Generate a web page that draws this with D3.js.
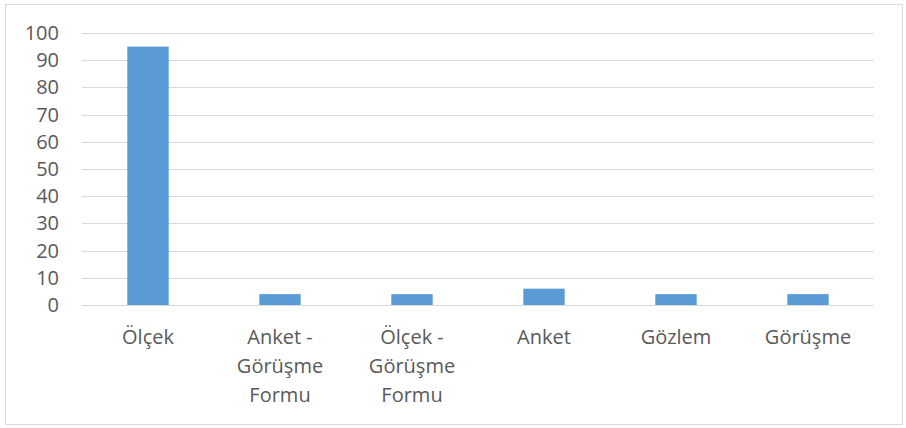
<!DOCTYPE html>
<html><head><meta charset="utf-8">
<script src="https://cdn.jsdelivr.net/npm/d3@7"></script>
<style>body{margin:0;background:#fff;} svg{display:block;}</style>
</head><body>
<script>
const categories = [["Ölçek"], ["Anket -", "Görüşme", "Formu"], ["Ölçek -", "Görüşme", "Formu"], ["Anket"], ["Gözlem"], ["Görüşme"]];
const values = [95, 4, 4, 6, 4, 4];
const yTicks = [0, 10, 20, 30, 40, 50, 60, 70, 80, 90, 100];

(function() {
const W = 906, H = 428;
const svg = d3.select("body").append("svg").attr("width", W).attr("height", H);
svg.append("rect").attr("x", 5.5).attr("y", 4.5).attr("width", 897).attr("height", 420)
  .attr("fill", "#fff").attr("stroke", "#d9d9d9").attr("stroke-width", 1);

const mL = 82, mR = 874, mT = 33, mB = 305;
const x = d3.scaleBand().domain(d3.range(categories.length)).range([mL, mR]).paddingInner(0.6866).paddingOuter(0.3433);
const y = d3.scaleLinear().domain([0, 100]).range([mB, mT]);
const font = "'Open Sans', sans-serif";
const fs = 20;

svg.append("g").selectAll("line").data(yTicks).join("line")
  .attr("x1", mL).attr("x2", mR)
  .attr("y1", d => Math.round(y(d)) + 0.5).attr("y2", d => Math.round(y(d)) + 0.5)
  .attr("stroke", "#d9d9d9").attr("stroke-width", 1);

const yAxis = svg.append("g").attr("transform", `translate(${mL},0)`)
  .call(d3.axisLeft(y).tickValues(yTicks).tickSize(0).tickPadding(23));
yAxis.select(".domain").remove();
yAxis.selectAll("text").attr("font-family", font).attr("font-size", fs).attr("fill", "#595959");

svg.append("g").selectAll("rect").data(values).join("rect")
  .attr("x", (d, i) => x(i)).attr("width", x.bandwidth())
  .attr("y", d => y(d)).attr("height", d => y(0) - y(d))
  .attr("fill", "#5b9bd5");

const xAxis = svg.append("g").attr("transform", `translate(0,${mB})`)
  .call(d3.axisBottom(x).tickSize(0).tickFormat(""));
xAxis.select(".domain").remove();
xAxis.selectAll(".tick").each(function(d) {
  const t = d3.select(this).append("text").attr("font-family", font).attr("font-size", fs)
    .attr("fill", "#595959").attr("text-anchor", "middle");
  categories[d].forEach((line, k) => {
    t.append("tspan").attr("x", 0).attr("y", 39 + k * 29).text(line);
  });
});
})();
</script>
</body></html>
